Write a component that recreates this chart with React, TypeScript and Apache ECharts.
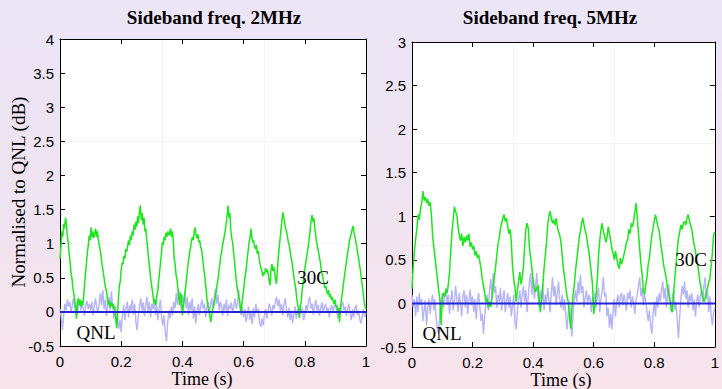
import React, { useEffect, useRef } from "react";
import * as echarts from "echarts";

// ---- data ----
const leftTitle = "Sideband freq. 2MHz";
const rightTitle = "Sideband freq. 5MHz";
const yLabel = "Normalised to QNL (dB)";
const xLabel = "Time (s)";

// 30C trace, left panel (dB), evenly spaced over 0..1 s
const leftGreen = [
  0.78,0.95,1.18,1.10,1.29,1.22,1.38,1.30,1.12,1.02,0.85,0.74,0.58,0.50,0.36,0.28,0.18,0.05,-0.10,0.12,0.20,0.10,0.18,0.08,0.16,0.10,0.25,0.42,0.58,0.72,0.88,0.98,1.12,1.05,1.24,1.10,1.18,1.08,1.15,1.22,1.10,1.18,1.05,0.98,0.90,0.82,0.70,0.62,0.52,0.42,0.35,0.30,0.18,0.10,0.16,0.06,0.14,0.08,0.12,0.04,0.08,-0.08,-0.24,-0.05,0.20,0.38,0.45,0.62,0.72,0.70,0.82,0.78,0.92,0.88,0.96,1.05,0.98,1.12,1.05,1.18,1.12,1.28,1.20,1.32,1.25,1.40,1.30,1.48,1.56,1.35,1.45,1.28,1.38,1.18,1.22,1.05,0.92,0.78,0.66,0.52,0.42,0.32,0.22,0.12,0.18,0.10,0.24,0.30,0.45,0.58,0.72,0.85,1.02,0.98,1.10,1.05,1.16,1.10,1.18,1.12,1.15,1.22,1.10,1.18,1.05,0.78,0.70,0.55,0.48,0.35,0.22,0.10,0.28,0.22,-0.05,0.08,0.18,0.30,0.42,0.55,0.68,0.78,0.88,0.95,1.05,1.10,1.05,1.18,1.24,1.12,1.08,1.14,1.02,1.05,0.95,0.92,0.80,0.68,0.58,0.45,0.32,0.18,0.08,0.02,-0.05,-0.15,-0.04,0.02,0.08,0.12,0.22,0.30,0.40,0.48,0.60,0.70,0.82,0.88,0.98,1.05,1.12,1.20,1.30,1.42,1.56,1.38,1.45,1.20,1.08,1.02,0.88,0.75,0.60,0.45,0.35,0.28,0.20,0.12,-0.02,0.10,0.22,0.32,0.45,0.55,0.64,0.78,0.90,1.02,1.08,1.22,1.10,1.02,1.05,0.96,0.92,0.98,0.85,0.90,0.78,0.70,0.64,0.60,0.52,0.58,0.55,0.64,0.58,0.62,0.55,0.45,0.39,0.62,0.70,0.60,0.66,0.58,0.48,0.41,0.62,0.80,0.95,1.08,1.22,1.35,1.46,1.38,1.30,1.22,1.18,1.10,1.02,0.98,0.88,0.80,0.73,0.62,0.52,0.42,0.35,0.22,0.12,0.05,-0.09,0.05,0.15,0.30,0.42,0.52,0.62,0.72,0.80,0.90,0.98,1.10,1.22,1.35,1.42,1.32,1.37,1.22,1.12,1.02,0.95,0.88,0.80,0.73,0.62,0.55,0.48,0.42,0.35,0.38,0.30,0.26,0.32,0.22,0.26,0.18,0.22,0.15,0.12,0.18,0.08,0.10,0.02,0.06,-0.15,0.05,0.18,0.26,0.38,0.48,0.58,0.68,0.78,0.88,0.95,1.05,1.10,1.15,1.22,1.26,1.15,1.10,1.02,0.95,0.85,0.78,0.68,0.60,0.48,0.38,0.26,0.15,0.08,0.04,
];

// QNL trace, left panel (dB)
const leftQnl = [
  0.05,-0.08,-0.27,-0.05,0.12,0.02,0.18,0.08,0.15,-0.02,0.10,0.20,0.05,0.14,-0.04,0.08,0.18,0.02,0.12,0.06,-0.06,0.10,0.16,0.04,0.12,
  0.02,0.15,-0.05,0.08,0.20,0.06,-0.02,0.12,0.28,0.10,0.32,0.04,0.18,-0.06,0.12,0.22,0.02,0.30,0.08,-0.10,0.05,-0.18,-0.08,-0.25,-0.12,
  -0.30,-0.05,0.10,-0.12,0.05,0.15,-0.08,0.10,0.02,0.18,-0.04,0.12,-0.15,-0.27,-0.05,0.08,0.20,0.02,0.14,-0.06,0.10,0.22,0.00,0.15,-0.08,
  0.12,0.04,0.20,-0.05,0.10,-0.12,0.05,0.18,-0.08,-0.20,-0.05,-0.30,-0.43,-0.15,0.02,-0.10,0.08,-0.05,0.15,0.05,0.28,0.10,0.34,0.18,0.05,
  0.25,0.12,0.30,0.05,0.22,-0.05,0.15,0.02,0.20,-0.10,0.08,-0.17,0.02,0.12,-0.05,0.10,0.18,0.04,0.12,-0.08,0.06,0.15,-0.02,0.10,0.20,
  0.05,0.22,0.34,0.12,0.25,0.02,0.15,0.08,-0.05,0.12,0.02,0.18,-0.06,0.10,0.04,0.14,-0.02,0.08,0.20,0.05,0.12,0.32,0.10,-0.05,0.08,
  -0.08,0.04,-0.15,-0.05,0.08,-0.12,0.02,-0.18,0.06,-0.08,0.12,-0.02,0.05,-0.15,-0.22,-0.10,-0.20,-0.05,0.04,-0.10,0.02,0.12,0.05,-0.05,0.10,
  0.04,0.15,0.22,0.08,0.18,0.02,0.12,-0.05,0.10,0.20,0.05,-0.08,0.06,-0.12,0.02,-0.17,-0.05,0.08,-0.10,0.04,-0.06,0.10,-0.02,0.06,-0.12,
  -0.05,0.10,0.02,0.15,0.22,0.05,0.12,-0.04,0.08,0.18,0.02,0.10,-0.06,0.05,0.14,-0.02,0.08,0.12,0.00,0.06,-0.08,0.04,0.10,-0.02,0.08,
  0.12,0.02,-0.10,0.05,-0.04,0.10,0.15,0.02,0.08,-0.06,0.05,0.12,-0.02,-0.12,0.04,-0.08,0.06,0.10,-0.05,0.02,-0.12,-0.17,-0.05,0.04,-0.08,-0.02,
];

// 30C trace, right panel (dB)
const rightGreen = [
  0.17,0.42,0.60,0.74,0.85,1.02,0.96,1.08,1.15,1.29,1.18,1.22,1.15,1.20,1.12,1.16,1.02,0.78,0.65,0.52,0.40,0.28,0.15,0.05,-0.25,
  0.05,0.12,0.08,0.16,0.12,0.22,0.36,0.60,0.82,0.96,1.11,1.05,1.02,0.88,0.78,0.72,0.80,0.66,0.76,0.70,0.78,0.72,0.80,0.65,0.70,
  0.62,0.66,0.55,0.60,0.52,0.56,0.48,0.40,0.28,0.20,0.12,0.02,0.05,-0.05,0.02,-0.04,0.06,0.18,0.30,0.42,0.55,0.68,0.75,0.86,0.92,
  0.98,1.02,0.94,0.98,0.88,0.80,0.85,0.70,0.42,0.28,0.18,0.02,0.15,0.25,0.36,0.22,0.30,0.42,0.65,0.85,0.92,0.86,0.63,0.52,0.40,
  0.26,0.18,0.13,0.18,0.21,0.05,-0.10,0.05,0.21,0.40,0.55,0.68,0.90,1.00,1.06,0.98,0.92,0.96,0.90,0.98,0.88,0.82,0.78,0.70,0.55,
  0.40,0.30,0.18,0.08,0.02,-0.15,-0.29,-0.05,0.10,0.22,0.38,0.50,0.62,0.75,0.82,0.92,0.98,0.90,0.84,0.78,0.68,0.60,0.48,0.35,0.22,
  -0.12,-0.02,0.10,0.28,0.55,0.72,0.85,0.92,0.82,0.78,0.70,0.76,0.88,0.80,0.72,0.63,0.58,0.50,0.60,0.52,0.44,0.40,0.52,0.45,0.50,
  0.56,0.62,0.70,0.72,0.85,0.80,0.92,0.88,0.95,1.05,1.15,0.98,0.80,0.62,0.45,0.33,0.15,0.10,0.22,0.30,0.45,0.52,0.66,0.78,0.86,
  0.95,1.02,0.95,0.88,0.84,0.72,0.62,0.52,0.42,0.36,0.28,0.16,0.10,0.02,-0.06,-0.10,0.12,0.30,0.45,0.62,0.75,0.82,0.90,0.85,0.92,
  0.94,0.90,0.98,1.02,0.95,0.90,0.85,0.75,0.67,0.60,0.50,0.44,0.32,0.22,0.15,0.08,0.02,0.06,0.13,0.18,0.25,0.29,0.44,0.58,0.79,0.82,
];

// QNL trace, right panel (dB)
const rightQnl = [
  0.10,-0.05,0.05,-0.15,0.08,-0.10,0.12,-0.02,0.05,-0.20,-0.08,0.04,-0.25,-0.05,0.06,-0.12,0.02,0.10,-0.08,0.05,-0.18,-0.30,-0.35,-0.10,0.02,
  0.12,-0.05,0.08,0.18,-0.02,0.10,-0.12,0.05,0.15,-0.08,0.02,0.20,0.05,-0.10,0.12,0.00,-0.15,0.08,0.15,-0.05,0.10,-0.12,0.04,0.16,-0.02,
  0.08,-0.10,0.05,-0.18,0.02,0.12,-0.05,-0.20,-0.12,-0.35,-0.15,0.02,0.10,-0.08,0.15,0.28,0.05,0.35,0.12,0.20,-0.05,0.10,0.02,0.18,-0.08,
  0.05,0.15,-0.10,0.02,0.12,-0.05,0.08,-0.15,-0.02,0.10,-0.20,-0.30,-0.08,0.05,0.15,-0.05,0.10,0.20,0.02,0.15,-0.10,0.08,0.25,0.35,0.10,
  0.30,0.05,0.20,0.35,0.08,-0.05,0.15,0.02,0.22,-0.08,0.10,0.00,0.18,0.05,-0.10,0.12,0.30,0.08,0.20,-0.02,0.12,0.25,0.05,-0.05,0.10,
  -0.08,0.05,-0.15,-0.30,-0.10,0.02,-0.20,-0.38,-0.12,0.05,0.15,0.02,0.25,0.10,0.33,0.12,0.20,-0.05,0.08,0.15,-0.02,0.10,0.05,-0.10,0.08,
  0.02,0.12,-0.05,0.08,0.18,-0.10,0.05,0.15,0.30,0.08,0.12,-0.15,-0.05,-0.28,-0.12,-0.30,-0.08,0.05,-0.15,0.02,0.10,-0.05,0.08,0.12,-0.02,
  0.10,0.02,-0.08,0.12,0.05,0.15,-0.05,0.08,0.00,-0.12,0.05,0.10,0.20,0.30,0.08,0.18,-0.02,0.10,0.02,-0.10,-0.20,-0.08,-0.25,-0.35,-0.12,
  0.02,-0.15,0.08,-0.05,0.12,0.02,0.15,0.25,0.05,0.18,-0.05,0.10,0.22,0.05,-0.10,0.08,0.15,-0.08,0.02,-0.20,-0.40,-0.15,0.05,0.20,0.10,
  0.25,0.05,0.15,-0.05,0.10,0.02,0.12,-0.08,0.05,-0.15,0.02,0.10,-0.05,0.08,0.15,0.02,0.20,0.30,0.05,0.15,-0.10,0.08,-0.15,-0.25,-0.10,-0.05,
];

// QNL reference level (dB) at start and end of the time window
const qnlLevel = [0, 0];
const timeRange = [0, 1];
const leftYRange = [-0.5, 4];
const rightYRange = [-0.5, 3];
const tickStepX = 0.2;
const tickStepY = 0.5;

const toPairs = (vals: number[]) =>
  vals.map((v, i) => [timeRange[0] + ((timeRange[1] - timeRange[0]) * i) / (vals.length - 1), v]);
const levelPairs = () => [
  [timeRange[0], qnlLevel[0]],
  [timeRange[1], qnlLevel[1]],
];

const SERIF = '"Liberation Serif", "Times New Roman", serif';
const SANS = '"Liberation Sans", Arial, Helvetica, sans-serif';

export default function App() {
  const ref = useRef<HTMLDivElement>(null);

  useEffect(() => {
    if (!ref.current) return;
    const chart = echarts.init(ref.current, null, { renderer: "svg" });

    const axisLine = { show: true, onZero: false, lineStyle: { color: "#000", width: 1 } };
    const axisTick = { show: true, inside: true, length: 5, lineStyle: { color: "#000", width: 1 } };
    const label = { show: true, color: "#000", fontSize: 15, fontFamily: SANS };
    const faint = { show: true, lineStyle: { color: "#f6f2f5", width: 1 } };
    const hidden = { axisLine: { show: false }, axisTick: { show: false }, axisLabel: { show: false } };

    const xAxes: any[] = [];
    const yAxes: any[] = [];
    [0, 1].forEach((g) => {
      const yr = g === 0 ? leftYRange : rightYRange;
      const xb = { type: "value", gridIndex: g, min: timeRange[0], max: timeRange[1], interval: tickStepX, splitLine: { show: false }, axisLine, axisTick };
      xAxes.push({ ...xb, position: "bottom", axisLabel: { ...label, margin: 8 } });
      xAxes.push({ ...xb, position: "top", axisLabel: { show: false } });
      xAxes.push({ type: "value", gridIndex: g, position: "bottom", min: timeRange[0], max: timeRange[1], interval: (timeRange[1] - timeRange[0]) / 3, splitLine: faint, ...hidden });
      const yb = { type: "value", gridIndex: g, min: yr[0], max: yr[1], interval: tickStepY, splitLine: { show: false }, axisLine, axisTick };
      yAxes.push({ ...yb, position: "left", axisLabel: { ...label, margin: 6 } });
      yAxes.push({ ...yb, position: "right", axisLabel: { show: false } });
      yAxes.push({ type: "value", gridIndex: g, position: "left", min: yr[0], max: yr[1], interval: (yr[1] - yr[0]) / 3, splitLine: faint, ...hidden });
    });

    const mk = (g: number, data: any, color: string, width: number, z: number) => ({
      type: "line",
      xAxisIndex: g * 3,
      yAxisIndex: g * 3,
      data,
      showSymbol: false,
      symbol: "none",
      silent: true,
      z,
      lineStyle: { color, width },
    });

    const text = (t: string, x: number, y: number, font: string, extra: any = {}) => ({
      type: "text",
      x,
      y,
      z: 100,
      ...extra,
      style: { text: t, font, fill: "#000", align: "center", verticalAlign: "middle" },
    });

    chart.setOption({
      animation: false,
      backgroundColor: "transparent",
      grid: [
        { left: 60, top: 39, width: 306, height: 307, show: true, backgroundColor: "#fff", borderWidth: 0 },
        { left: 412, top: 42, width: 305, height: 305, show: true, backgroundColor: "#fff", borderWidth: 0 },
      ],
      xAxis: xAxes,
      yAxis: yAxes,
      series: [
        mk(0, toPairs(leftQnl), "#b4b4f7", 1.4, 2),
        mk(0, toPairs(leftGreen), "#1ee61e", 1.5, 3),
        mk(0, levelPairs(), "#2424d8", 2, 4),
        mk(1, toPairs(rightQnl), "#b4b4f7", 1.4, 2),
        mk(1, toPairs(rightGreen), "#1ee61e", 1.5, 3),
        mk(1, levelPairs(), "#2424d8", 2, 4),
      ],
      graphic: [
        text(leftTitle, 214, 17, `bold 19px ${SERIF}`),
        text(rightTitle, 550, 17, `bold 19px ${SERIF}`),
        text(yLabel, 18, 192, `19px ${SERIF}`, { rotation: Math.PI / 2 }),
        text(xLabel, 202, 378.5, `18px ${SERIF}`),
        text(xLabel, 561, 380, `18px ${SERIF}`),
        text("QNL", 96, 332, `19px ${SERIF}`),
        text("QNL", 442, 333, `19px ${SERIF}`),
        text("30C", 313, 277, `19px ${SERIF}`),
        text("30C", 691, 259, `19px ${SERIF}`),
      ],
    });

    return () => chart.dispose();
  }, []);

  return (
    <div
      style={{
        position: "absolute",
        left: 0,
        top: 0,
        width: 722,
        height: 389,
        background: "linear-gradient(to bottom, #ebe5f6 0%, #efe4f1 50%, #f8e3ea 100%)",
      }}
    >
      <div ref={ref} style={{ width: 722, height: 389 }} />
    </div>
  );
}
